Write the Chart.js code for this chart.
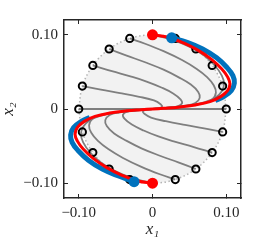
<!DOCTYPE html>
<html>
<head>
<meta charset="utf-8">
<script src="https://cdn.jsdelivr.net/npm/chart.js@4"></script>
<style>
  html, body { margin: 0; padding: 0; background: #fff; }
  #wrap { width: 266px; height: 246px; }
</style>
</head>
<body>
<div id="wrap"><canvas id="chart"></canvas></div>
<script>
// Tick values on both axes
var tickValues = [-0.1, 0, 0.1];

// Start points on the circle (every 18 deg)
var markerX = [0.1, 0.0951, 0.0809, 0.0588, 0.0309, 0, -0.0309, -0.0588, -0.0809, -0.0951,
               -0.1, -0.0951, -0.0809, -0.0588, -0.0309, 0, 0.0309, 0.0588, 0.0809, 0.0951];
var markerY = [0, 0.0309, 0.0588, 0.0809, 0.0951, 0.1, 0.0951, 0.0809, 0.0588, 0.0309,
               0, -0.0309, -0.0588, -0.0809, -0.0951, -0.1, -0.0951, -0.0809, -0.0588, -0.0309];

// Gray trajectories, upper half (start at upper-left markers)
var gray90 = [[0, 0.1], [0.025, 0.094], [0.05, 0.084], [0.07, 0.072], [0.085, 0.058], [0.094, 0.045],
              [0.097, 0.034], [0.094, 0.024], [0.085, 0.015], [0.07, 0.009], [0.05, 0.005], [0.025, 0.002], [0, 0]];
var gray108 = [[-0.0309, 0.0951], [-0.01, 0.088], [0.015, 0.078], [0.04, 0.066], [0.06, 0.054], [0.074, 0.043],
               [0.083, 0.032], [0.086, 0.022], [0.081, 0.013], [0.068, 0.0075], [0.048, 0.0045], [0.025, 0.002], [0, 0]];
var gray126 = [[-0.0588, 0.0809], [-0.035, 0.072], [-0.01, 0.063], [0.015, 0.053], [0.035, 0.043], [0.052, 0.033],
               [0.062, 0.023], [0.064, 0.015], [0.058, 0.008], [0.045, 0.0045], [0.025, 0.002], [0, 0]];
var gray144 = [[-0.0809, 0.0588], [-0.055, 0.051], [-0.03, 0.044], [-0.008, 0.037], [0.012, 0.029], [0.028, 0.021],
               [0.038, 0.013], [0.04, 0.0075], [0.034, 0.0035], [0.02, 0.0015], [0, 0]];
var gray162 = [[-0.0951, 0.0309], [-0.07, 0.026], [-0.044, 0.0215], [-0.018, 0.0165], [0.002, 0.0115],
               [0.011, 0.0065], [0.013, 0.003], [0.008, 0.001], [0, 0]];
var gray180 = [[-0.1, 0], [0.1, 0]];

// Gray trajectories, lower half (start at lower-right markers)
var gray270 = [[0, -0.1], [-0.025, -0.094], [-0.05, -0.084], [-0.07, -0.072], [-0.085, -0.058], [-0.094, -0.045],
               [-0.097, -0.034], [-0.094, -0.024], [-0.085, -0.015], [-0.07, -0.009], [-0.05, -0.005], [-0.025, -0.002], [0, 0]];
var gray288 = [[0.0309, -0.0951], [0.01, -0.088], [-0.015, -0.078], [-0.04, -0.066], [-0.06, -0.054], [-0.074, -0.043],
               [-0.083, -0.032], [-0.086, -0.022], [-0.081, -0.013], [-0.068, -0.0075], [-0.048, -0.0045], [-0.025, -0.002], [0, 0]];
var gray306 = [[0.0588, -0.0809], [0.035, -0.072], [0.01, -0.063], [-0.015, -0.053], [-0.035, -0.043], [-0.052, -0.033],
               [-0.062, -0.023], [-0.064, -0.015], [-0.058, -0.008], [-0.045, -0.0045], [-0.025, -0.002], [0, 0]];
var gray324 = [[0.0809, -0.0588], [0.055, -0.051], [0.03, -0.044], [0.008, -0.037], [-0.012, -0.029], [-0.028, -0.021],
               [-0.038, -0.013], [-0.04, -0.0075], [-0.034, -0.0035], [-0.02, -0.0015], [0, 0]];
var gray342 = [[0.0951, -0.0309], [0.07, -0.026], [0.044, -0.0215], [0.018, -0.0165], [-0.002, -0.0115],
               [-0.011, -0.0065], [-0.013, -0.003], [-0.008, -0.001], [0, 0]];

// Red curve (top red dot to bottom red dot)
var redCurve = [[0, 0.1], [0.02, 0.097], [0.042, 0.089], [0.062, 0.079], [0.08, 0.067], [0.094, 0.054],
                [0.102, 0.043], [0.105, 0.034], [0.102, 0.025], [0.093, 0.017], [0.078, 0.01], [0.058, 0.0055],
                [0.035, 0.0025], [0.015, 0.001], [0, 0], [-0.015, -0.001], [-0.035, -0.0025], [-0.058, -0.0055],
                [-0.078, -0.01], [-0.093, -0.017], [-0.102, -0.025], [-0.105, -0.034], [-0.102, -0.043],
                [-0.094, -0.054], [-0.08, -0.067], [-0.062, -0.079], [-0.042, -0.089], [-0.02, -0.097], [0, -0.1]];
var redEnds = [[0, 0.1], [0, -0.1]];

// Blue curve, outer parts only (the middle runs under the red one)
var blueUpper = [[0.026, 0.096], [0.047, 0.09], [0.068, 0.081], [0.087, 0.069], [0.101, 0.056], [0.109, 0.045],
                 [0.111, 0.035], [0.107, 0.025], [0.097, 0.017], [0.085, 0.0115]];
var blueLower = [[-0.025, -0.098], [-0.047, -0.09], [-0.068, -0.081], [-0.087, -0.069], [-0.101, -0.056],
                 [-0.109, -0.045], [-0.111, -0.035], [-0.107, -0.025], [-0.097, -0.017], [-0.085, -0.0115]];
var blueEnds = [[0.026, 0.096], [-0.025, -0.098]];

var textColor = '#262626';
var serif = "'Liberation Serif', 'DejaVu Serif', serif";

function toPoints(pairs) {
  return pairs.map(function(p) { return { x: p[0], y: p[1] }; });
}

function setTicks(scale) {
  scale.ticks = tickValues.map(function(v) { return { value: v }; });
}

function formatTick(value) {
  if (value === 0) return '0';
  return (value < 0 ? '\u2212' : '') + Math.abs(value).toFixed(2);
}

// Upper and lower half of the circle, from the markers
var upperCircle = [];
var lowerCircle = [];
for (var i = 0; i <= 10; i++) {
  upperCircle.push({ x: markerX[i], y: markerY[i] });
  var j = (i + 10) % 20;
  lowerCircle.push({ x: markerX[j], y: markerY[j] });
}

function circleSet(points) {
  return {
    data: points,
    borderColor: '#b4b4b4',
    borderWidth: 1.5,
    borderDash: [1.5, 2.5],
    backgroundColor: '#f2f2f2',
    fill: 'origin',
    tension: 0.34,
    pointRadius: 0,
    order: 10
  };
}

function graySet(pairs) {
  return {
    data: toPoints(pairs),
    borderColor: '#7f7f7f',
    borderWidth: 1.8,
    tension: 0.4,
    pointRadius: 0,
    fill: false,
    order: 8
  };
}

function blueSet(pairs) {
  return {
    data: toPoints(pairs),
    borderColor: '#0072bd',
    borderWidth: 5,
    tension: 0.4,
    pointRadius: 0,
    fill: false,
    order: 4
  };
}

var grayCurves = [gray90, gray108, gray126, gray144, gray162, gray180,
                  gray270, gray288, gray306, gray324, gray342];

var datasets = [
  {
    data: toPoints(redEnds),
    showLine: false,
    pointRadius: 5.5,
    pointBackgroundColor: '#ff0000',
    pointBorderWidth: 0,
    order: 1
  },
  {
    data: toPoints(blueEnds),
    showLine: false,
    pointRadius: 5.5,
    pointBackgroundColor: '#0072bd',
    pointBorderWidth: 0,
    order: 2
  },
  {
    data: toPoints(redCurve),
    borderColor: '#ff0000',
    borderWidth: 3,
    tension: 0.4,
    pointRadius: 0,
    fill: false,
    order: 3
  },
  blueSet(blueUpper),
  blueSet(blueLower),
  {
    data: markerX.map(function(x, k) { return { x: x, y: markerY[k] }; }),
    showLine: false,
    pointRadius: 3.6,
    pointBorderWidth: 2,
    pointBorderColor: '#000000',
    pointBackgroundColor: 'rgba(0,0,0,0)',
    order: 5
  }
];

grayCurves.forEach(function(c) { datasets.push(graySet(c)); });
datasets.push(circleSet(upperCircle));
datasets.push(circleSet(lowerCircle));

var edgeGrid = {
  drawOnChartArea: false,
  drawTicks: true,
  tickLength: -4,
  color: textColor,
  lineWidth: 1
};
var edgeBorder = { display: true, color: textColor, width: 1.5 };

new Chart(document.getElementById('chart'), {
  type: 'line',
  data: { datasets: datasets },
  options: {
    responsive: true,
    maintainAspectRatio: false,
    animation: false,
    events: [],
    layout: { padding: { left: 0, right: 25, top: 20, bottom: 0 } },
    plugins: {
      legend: { display: false },
      tooltip: { enabled: false }
    },
    scales: {
      x: {
        type: 'linear',
        position: 'bottom',
        min: -0.12,
        max: 0.12,
        afterBuildTicks: setTicks,
        afterFit: function(s) { s.height = 48; },
        grid: edgeGrid,
        border: edgeBorder,
        ticks: {
          padding: 10,
          maxRotation: 0,
          autoSkip: false,
          color: textColor,
          font: { family: serif, size: 15 },
          callback: formatTick
        },
        title: {
          display: true,
          text: 'x\u2081',
          color: textColor,
          font: { family: serif, size: 17, style: 'italic', lineHeight: 1.2 },
          padding: { top: 0, bottom: 6 }
        }
      },
      y: {
        type: 'linear',
        position: 'left',
        min: -0.12,
        max: 0.12,
        afterBuildTicks: setTicks,
        afterFit: function(s) { s.width = 64; },
        grid: edgeGrid,
        border: edgeBorder,
        ticks: {
          padding: 10,
          autoSkip: false,
          color: textColor,
          font: { family: serif, size: 15 },
          callback: formatTick
        },
        title: {
          display: true,
          text: 'x\u2082',
          color: textColor,
          font: { family: serif, size: 17, style: 'italic', lineHeight: 1 },
          padding: { top: 0, bottom: 0 }
        }
      },
      xTop: {
        type: 'linear',
        position: 'top',
        min: -0.12,
        max: 0.12,
        afterBuildTicks: setTicks,
        afterFit: function(s) { s.height = 0; },
        grid: edgeGrid,
        border: edgeBorder,
        ticks: { display: false }
      },
      yRight: {
        type: 'linear',
        position: 'right',
        min: -0.12,
        max: 0.12,
        afterBuildTicks: setTicks,
        afterFit: function(s) { s.width = 0; },
        grid: edgeGrid,
        border: edgeBorder,
        ticks: { display: false }
      }
    }
  }
});
</script>
</body>
</html>
